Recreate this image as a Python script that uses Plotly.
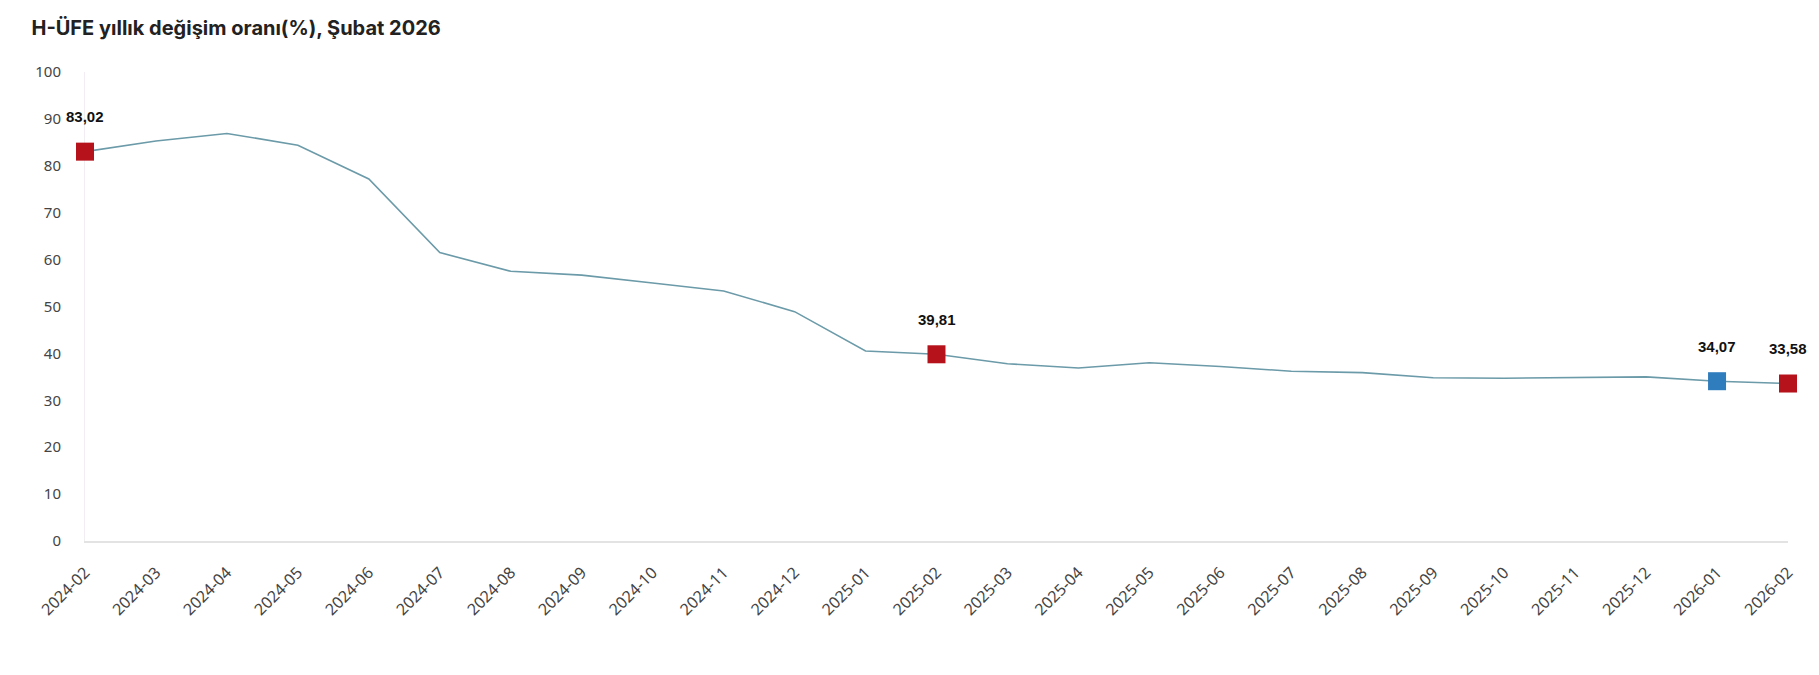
import plotly.graph_objects as go

# H-ÜFE yıllık değişim oranı (%)
months = [
    "2024-02", "2024-03", "2024-04", "2024-05", "2024-06", "2024-07",
    "2024-08", "2024-09", "2024-10", "2024-11", "2024-12", "2025-01",
    "2025-02", "2025-03", "2025-04", "2025-05", "2025-06", "2025-07",
    "2025-08", "2025-09", "2025-10", "2025-11", "2025-12", "2026-01",
    "2026-02",
]
values = [
    83.02, 85.3, 86.9, 84.4, 77.2, 61.5,
    57.5, 56.7, 55.0, 53.3, 48.9, 40.5,
    39.81, 37.8, 36.9, 38.0, 37.2, 36.2,
    35.9, 34.8, 34.7, 34.8, 35.0, 34.07,
    33.58,
]

# highlighted points
hl_months = ["2024-02", "2025-02", "2026-01", "2026-02"]
hl_colors = ["#b5121b", "#b5121b", "#2f7dbd", "#b5121b"]
hl_values = [values[months.index(m)] for m in hl_months]

fig = go.Figure()

fig.add_trace(go.Scatter(
    x=months, y=values, mode="lines",
    line={"color": "#6b9aa8", "width": 1.6},
    hoverinfo="skip", showlegend=False,
))

fig.add_trace(go.Scatter(
    x=hl_months, y=hl_values, mode="markers",
    marker={"symbol": "square", "size": 18, "color": hl_colors,
            "line": {"width": 0}},
    cliponaxis=False, showlegend=False,
))

for m, v in zip(hl_months, hl_values):
    fig.add_annotation(
        x=m, y=v, text="<b>" + f"{v:.2f}".replace(".", ",") + "</b>",
        showarrow=False, yshift=35,
        font={"family": "Liberation Sans", "size": 15, "color": "#111"},
    )

# page body has an 8px margin, so the figure is a bit smaller than the window
fig.update_layout(
    width=1803, height=659,
    paper_bgcolor="white", plot_bgcolor="white",
    margin={"l": 77, "r": 23, "t": 64, "b": 126},
    title={"text": "<b>H-ÜFE yıllık değişim oranı(%), Şubat 2026</b>",
           "x": 0.013, "xanchor": "left", "y": 0.97, "yanchor": "middle",
           "font": {"family": "Inter", "size": 20, "color": "#222"}},
)

fig.update_xaxes(
    type="category", range=[0, 24],
    showgrid=False, showline=True, linecolor="#e3e3e3", linewidth=2,
    tickangle=-45, ticks="", ticklabelstandoff=14, layer="below traces",
    tickfont={"family": "Noto Sans", "size": 16, "color": "#444"},
)
fig.update_yaxes(
    range=[0, 100], dtick=10,
    showgrid=False, zeroline=False,
    showline=True, linecolor="#f0eef0", linewidth=1,
    ticks="", ticklabelstandoff=20, layer="below traces",
    tickfont={"family": "Noto Sans", "size": 15, "color": "#444"},
)

fig.write_html("out.html")
